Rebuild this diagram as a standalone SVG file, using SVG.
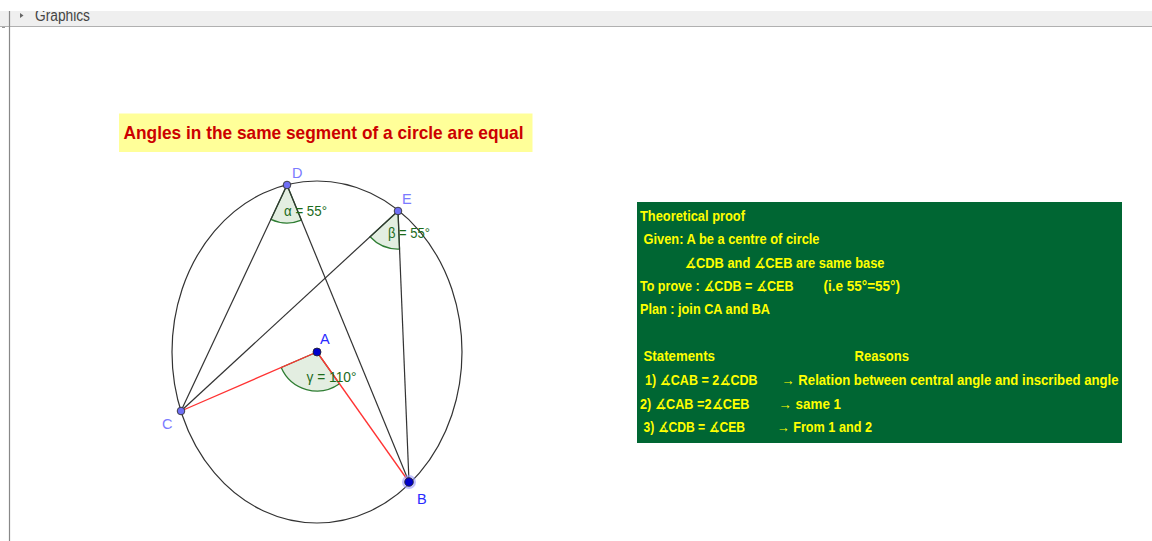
<svg xmlns="http://www.w3.org/2000/svg" width="1152" height="541" viewBox="0 0 1152 541">
<style>
.seg{stroke:#333;stroke-width:1.2;fill:none}
.red{stroke:#ff3333;stroke-width:1.3;fill:none}
.ang{fill:#e3eee1;stroke:#2e7d32;stroke-width:1.3}
.angl{font-family:"Liberation Sans","DejaVu Sans",sans-serif;font-size:14px;fill:#1b6b1b}
.pl{font-family:"Liberation Sans","DejaVu Sans",sans-serif;font-size:14.5px}
.pt{fill:#6f6ff5;stroke:#333;stroke-width:0.9}
.pr{font-family:"Liberation Sans","DejaVu Sans",sans-serif;font-size:14px;font-weight:bold;fill:#ffff00}
</style>
<rect width="1152" height="541" fill="#ffffff"/>
<g id="header">
<rect x="0" y="11" width="1152" height="15.5" fill="#efefef"/>
<line x1="0" y1="26.5" x2="1152" y2="26.5" stroke="#b0b0b0" stroke-width="1.2"/>
<line x1="9.5" y1="11" x2="9.5" y2="541" stroke="#888" stroke-width="1.2"/>
<line x1="2" y1="27.5" x2="5" y2="27.5" stroke="#999" stroke-width="1"/>
<path d="M20,13 L23.5,15.5 L20,18 Z" fill="#666"/>
<text x="35" y="21" font-family="Liberation Sans,sans-serif" font-size="16" fill="#444" textLength="55" lengthAdjust="spacingAndGlyphs">Graphics</text>
<rect x="0" y="0" width="1152" height="11" fill="#ffffff"/>
</g>
<g id="title">
<rect x="119" y="113.5" width="413.5" height="38.5" fill="#ffff99"/>
<text x="123.5" y="138.5" font-family="Liberation Sans,sans-serif" font-size="19" font-weight="bold" fill="#cc0000" textLength="400" lengthAdjust="spacingAndGlyphs">Angles in the same segment of a circle are equal</text>
</g>
<g id="circle">
<ellipse cx="317" cy="352" rx="145" ry="171" class="seg"/>
</g>
<g id="angles">
<path class="ang" d="M287,185 L270.9,219.4 A38,38 0 0 0 301.4,220.2 Z"/>
<path class="ang" d="M398,211 L370.1,236.8 A38,38 0 0 0 399.5,249 Z"/>
<path class="ang" d="M317,352 L281.2,367.5 A39,39 0 0 0 339.5,383.8 Z"/>
</g>
<g id="connectors">
<line class="seg" x1="287" y1="185" x2="181" y2="411"/>
<line class="seg" x1="287" y1="185" x2="409" y2="482"/>
<line class="seg" x1="398" y1="211" x2="181" y2="411"/>
<line class="seg" x1="398" y1="211" x2="409" y2="482"/>
<line class="red" x1="317" y1="352" x2="181" y2="411"/>
<line class="red" x1="317" y1="352" x2="409" y2="482"/>
</g>
<g id="angle-labels">
<text class="angl" x="284" y="215.5" textLength="43" lengthAdjust="spacingAndGlyphs">α = 55°</text>
<text class="angl" x="388" y="237.5" textLength="42" lengthAdjust="spacingAndGlyphs">β = 55°</text>
<text class="angl" x="306.5" y="382" textLength="50" lengthAdjust="spacingAndGlyphs">γ = 110°</text>
</g>
<g id="node-D">
<circle class="pt" cx="287" cy="185" r="3.8"/>
<text class="pl" x="292" y="178" fill="#7b7bff">D</text>
</g>
<g id="node-E">
<circle class="pt" cx="398" cy="211" r="3.8"/>
<text class="pl" x="402" y="204" fill="#7b7bff">E</text>
</g>
<g id="node-C">
<circle class="pt" cx="181" cy="411" r="3.8"/>
<text class="pl" x="162" y="429" fill="#7b7bff">C</text>
</g>
<g id="node-A">
<circle cx="317" cy="352" r="4" fill="#0000cc" stroke="#222" stroke-width="0.8"/>
<text class="pl" x="320" y="344" fill="#2a2aff">A</text>
</g>
<g id="node-B">
<circle cx="409" cy="482" r="7" fill="#9999ff" opacity="0.6"/>
<circle cx="409" cy="482" r="4.3" fill="#0000cc" stroke="#222" stroke-width="0.8"/>
<text class="pl" x="417" y="504" fill="#2a2aff">B</text>
</g>
<g id="proof">
<rect x="637" y="202" width="485" height="241" fill="#006633"/>
<text class="pr" x="640" y="220.5" textLength="105" lengthAdjust="spacingAndGlyphs">Theoretical proof</text>
<text class="pr" x="643.5" y="244" textLength="176" lengthAdjust="spacingAndGlyphs">Given: A be a centre of circle</text>
<text class="pr" x="684.5" y="267.5" textLength="200" lengthAdjust="spacingAndGlyphs">∡CDB and  ∡CEB are same base</text>
<text class="pr" x="640" y="291" textLength="153.5" lengthAdjust="spacingAndGlyphs">To prove : ∡CDB =  ∡CEB</text>
<text class="pr" x="823.5" y="291" textLength="76.5" lengthAdjust="spacingAndGlyphs">(i.e 55°=55°)</text>
<text class="pr" x="640" y="314" textLength="130" lengthAdjust="spacingAndGlyphs">Plan  : join CA and BA</text>
<text class="pr" x="643.5" y="361" textLength="71.5" lengthAdjust="spacingAndGlyphs">Statements</text>
<text class="pr" x="854.5" y="361" textLength="54.5" lengthAdjust="spacingAndGlyphs">Reasons</text>
<text class="pr" x="645" y="385" textLength="112.5" lengthAdjust="spacingAndGlyphs">1) ∡CAB = 2∡CDB</text>
<text class="pr" x="781.5" y="385" textLength="337" lengthAdjust="spacingAndGlyphs">→  Relation between central angle and inscribed angle</text>
<text class="pr" x="640" y="408.5" textLength="109.5" lengthAdjust="spacingAndGlyphs">2) ∡CAB =2∡CEB</text>
<text class="pr" x="778.5" y="408.5" textLength="62.5" lengthAdjust="spacingAndGlyphs">→  same 1</text>
<text class="pr" x="643.5" y="432" textLength="101.5" lengthAdjust="spacingAndGlyphs">3) ∡CDB = ∡CEB</text>
<text class="pr" x="777" y="432" textLength="95" lengthAdjust="spacingAndGlyphs">→ From 1 and 2</text>
</g>
</svg>
